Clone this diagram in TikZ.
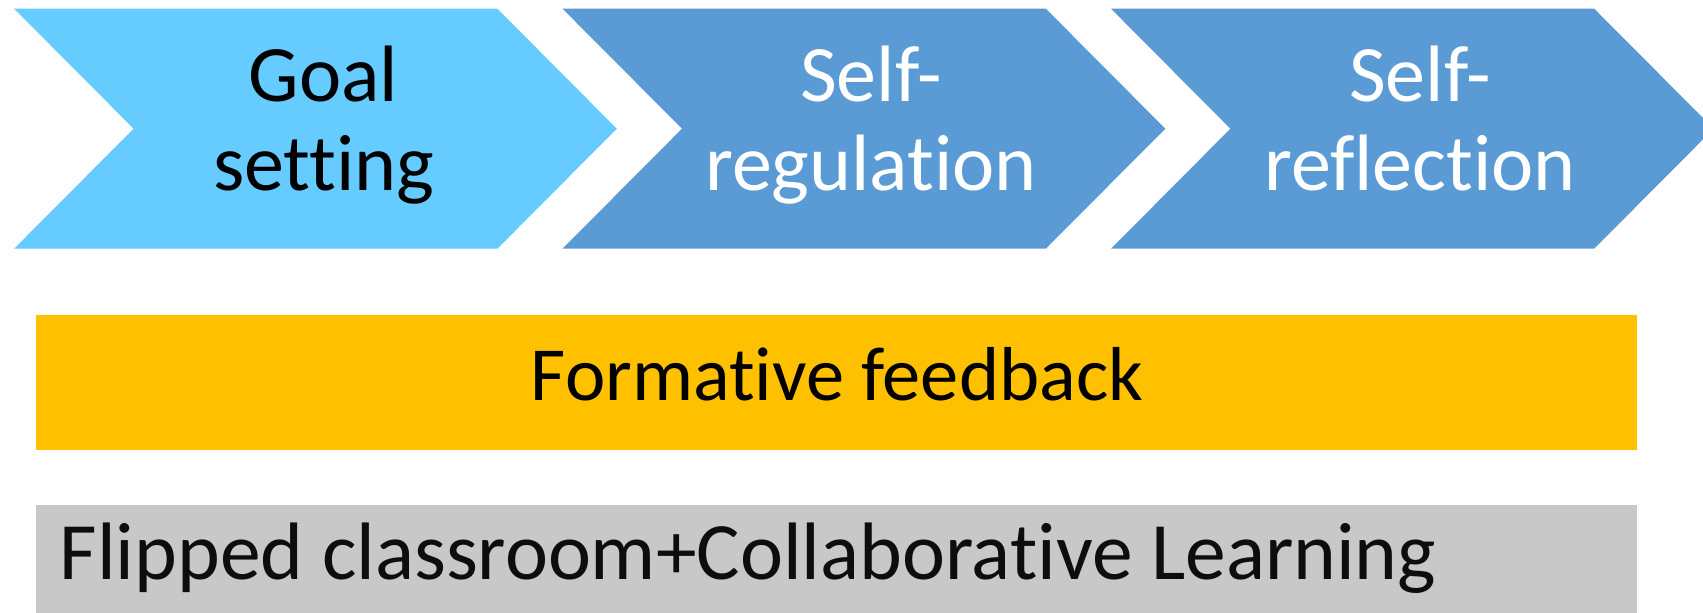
\documentclass[tikz,border=0pt]{standalone}
\usepackage{fontspec}
\setmainfont[RawFeature={-liga;-clig;-dlig}]{Carlito}
\definecolor{lblue}{RGB}{102,204,255}
\definecolor{mblue}{RGB}{91,155,213}
\definecolor{gold}{RGB}{255,192,0}
\definecolor{lgray}{RGB}{200,200,200}
\definecolor{ink}{RGB}{13,13,13}
\begin{document}
\begin{tikzpicture}[x=1pt,y=-1pt,
  bigtxt/.style={font=\fontsize{80}{96}\selectfont, anchor=base, inner sep=0pt},
  midtxt/.style={font=\fontsize{76.5}{90}\selectfont, anchor=base, inner sep=0pt},
  lowtxt/.style={font=\fontsize{81.5}{96}\selectfont, anchor=base west, inner sep=0pt, text=ink}]
\useasboundingbox (0,0) rectangle (1703,613);
\clip (0,0) rectangle (1703,613);
% chevrons
\fill[lblue] (14.1,8.7) -- (497.4,8.7) -- (616.8,128.7) -- (497.4,248.7) -- (14.1,248.7) -- (133.6,128.7) -- cycle;
\fill[mblue] (562.5,8.7) -- (1045.8,8.7) -- (1165.3,128.7) -- (1045.8,248.7) -- (562.5,248.7) -- (682,128.7) -- cycle;
\fill[mblue] (1111,8.7) -- (1594.2,8.7) -- (1713.7,128.7) -- (1594.2,248.7) -- (1111,248.7) -- (1230.4,128.7) -- cycle;
% chevron labels
\node[bigtxt, text=black] (g1) at (323.6,101) {Goal};
\node[bigtxt, text=black] (g2) at (323.6,190) {setting};
\node[bigtxt, text=white] (r1) at (871,101) {Self-};
\node[bigtxt, text=white] (r2) at (871,190) {regulation};
\node[bigtxt, text=white] (f1) at (1420,101) {Self-};
\node[bigtxt, text=white] (f2) at (1420,190) {reflection};
% bars
\fill[gold] (35.8,315) rectangle (1636.6,449.6);
\node[midtxt, text=black] (ff) at (837,400) {Formative feedback};
\fill[lgray] (35.8,505) rectangle (1636.6,613);
\node[lowtxt] (fc) at (59.7,579) {Flipped classroom+Collaborative Learning};
\end{tikzpicture}
\end{document}
